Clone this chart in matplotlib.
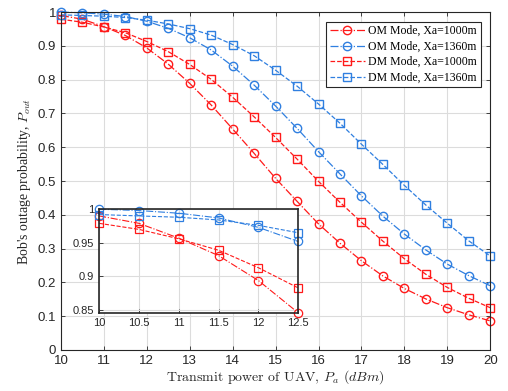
import numpy as np
import matplotlib
matplotlib.use("Agg")
import matplotlib.pyplot as plt

plt.rcParams['mathtext.fontset'] = 'cm'

# transmit power (dBm)
pa = np.arange(10, 20.01, 0.5)

# outage probability
om_1000 = [0.990, 0.979, 0.957, 0.931, 0.894, 0.846, 0.789, 0.725, 0.654, 0.582,
           0.508, 0.440, 0.373, 0.316, 0.264, 0.219, 0.182, 0.151, 0.125, 0.104, 0.086]
om_1360 = [1.000, 0.998, 0.994, 0.987, 0.973, 0.952, 0.924, 0.888, 0.840, 0.784,
           0.722, 0.656, 0.587, 0.521, 0.456, 0.396, 0.343, 0.296, 0.254, 0.220, 0.190]
dm_1000 = [0.979, 0.970, 0.956, 0.939, 0.913, 0.883, 0.845, 0.801, 0.748, 0.690,
           0.629, 0.565, 0.499, 0.437, 0.378, 0.322, 0.270, 0.224, 0.185, 0.153, 0.125]
dm_1360 = [0.992, 0.990, 0.988, 0.984, 0.976, 0.965, 0.951, 0.932, 0.904, 0.871,
           0.828, 0.781, 0.728, 0.671, 0.609, 0.549, 0.487, 0.429, 0.375, 0.323, 0.278]

labels = ['OM Mode, Xa=1000m', 'OM Mode, Xa=1360m',
          'DM Mode, Xa=1000m', 'DM Mode, Xa=1360m']

red = '#ff1a1a'
blue = '#2f7fe0'
styles = [(om_1000, red, '-.', 'o'), (om_1360, blue, '-.', 'o'),
          (dm_1000, red, '--', 's'), (dm_1360, blue, '--', 's')]

sans = ['Liberation Sans', 'DejaVu Sans']
serif = ['Liberation Serif', 'DejaVu Serif']
edge = '#262626'


def style_axes(ax, fs):
    ax.grid(True, color='#dcdcdc', linewidth=0.8)
    ax.set_axisbelow(True)
    ax.tick_params(direction='in', top=True, right=True, length=3,
                   labelsize=fs, colors=edge, width=0.6)
    for s in ax.spines.values():
        s.set_color(edge)
        s.set_linewidth(0.8)
    for t in ax.get_xticklabels() + ax.get_yticklabels():
        t.set_family(sans)


fig = plt.figure(figsize=(5.08, 3.91), dpi=100)
ax = fig.add_axes([0.120, 0.105, 0.845, 0.864])

for (vals, c, ls, mk), lab in zip(styles, labels):
    ax.plot(pa, vals, color=c, linestyle=ls, marker=mk, markersize=6 if mk == 'o' else 5.5,
            markerfacecolor='none', markeredgewidth=1.0, linewidth=0.9, label=lab,
            clip_on=False)

ax.set_xlim(10, 20)
ax.set_ylim(0, 1)
ax.set_xticks(np.arange(10, 21, 1))
ax.set_yticks(np.arange(0, 1.01, 0.1))
ax.set_yticklabels(['0', '0.1', '0.2', '0.3', '0.4', '0.5', '0.6', '0.7', '0.8', '0.9', '1'])
style_axes(ax, 9.5)
ax.set_xlabel('Transmit power of UAV, $P_a$ $(dBm)$', family='cmr10', fontsize=10,
              color=edge, labelpad=1)
ax.set_ylabel("Bob's outage probability, $P_{out}$", family=serif, fontsize=10,
              color=edge, labelpad=3)

leg = ax.legend(loc='upper right', prop={'family': serif, 'size': 8.5},
                fancybox=False, framealpha=1, edgecolor=edge,
                borderpad=0.3, labelspacing=0.3, handlelength=3.0,
                handletextpad=0.3, borderaxespad=0.8)
leg.get_frame().set_linewidth(0.8)

# zoomed inset
ins = fig.add_axes([0.195, 0.200, 0.392, 0.265])
n = 6
for vals, c, ls, mk in styles:
    ins.plot(pa[:n], vals[:n], color=c, linestyle=ls, marker=mk,
             markersize=6 if mk == 'o' else 5.5, markerfacecolor='none',
             markeredgewidth=0.9, linewidth=0.8, clip_on=False)
ins.set_xlim(10, 12.5)
ins.set_ylim(0.846, 1.0)
ins.set_xticks([10, 10.5, 11, 11.5, 12, 12.5])
ins.set_xticklabels(['10', '10.5', '11', '11.5', '12', '12.5'])
ins.set_yticks([0.85, 0.9, 0.95, 1.0])
ins.set_yticklabels(['0.85', '0.9', '0.95', '1'])
style_axes(ins, 8)
ins.tick_params(top=False, right=False)
for s in ins.spines.values():
    s.set_linewidth(1.2)

fig.savefig('out.png', dpi=100)
